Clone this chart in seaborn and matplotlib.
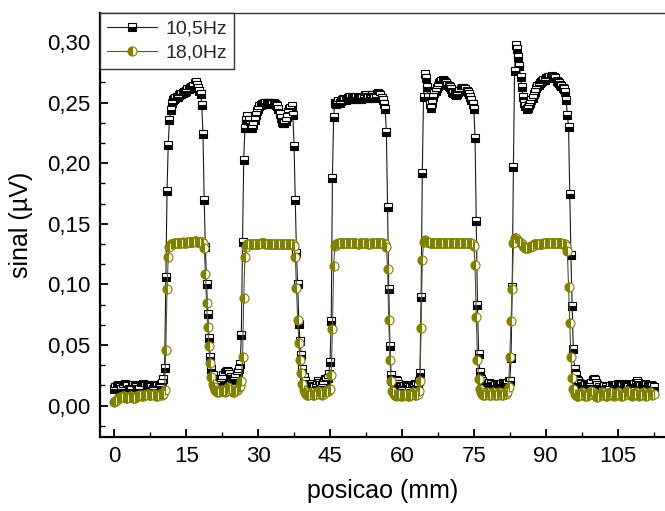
import numpy as np
import pandas as pd
import matplotlib
matplotlib.use("Agg")
import matplotlib.pyplot as plt
import seaborn as sns
from matplotlib.ticker import FixedLocator, MultipleLocator, AutoMinorLocator, FuncFormatter

# sampling step along the scan (mm)
step_mm = 0.25

# signal at 10,5 Hz (uV), one row = 5 mm
sig_10_5 = [
    0.014, 0.015, 0.016, 0.017, 0.016, 0.015, 0.014, 0.015, 0.017, 0.018, 0.017, 0.016, 0.014, 0.013, 0.014, 0.016, 0.017, 0.016, 0.015, 0.014,  # 0
    0.013, 0.014, 0.016, 0.017, 0.018, 0.017, 0.016, 0.015, 0.016, 0.017, 0.016, 0.015, 0.014, 0.015, 0.016, 0.017, 0.016, 0.015, 0.016, 0.018,  # 5
    0.019, 0.022, 0.031, 0.106, 0.177, 0.215, 0.236, 0.244, 0.250, 0.252, 0.253, 0.254, 0.255, 0.255, 0.256, 0.257, 0.257, 0.258, 0.259, 0.259,  # 10
    0.260, 0.261, 0.261, 0.262, 0.263, 0.263, 0.264, 0.266, 0.267, 0.265, 0.262, 0.260, 0.257, 0.248, 0.224, 0.170, 0.131, 0.100, 0.076, 0.056,  # 15
    0.040, 0.030, 0.025, 0.022, 0.020, 0.019, 0.020, 0.022, 0.021, 0.020, 0.022, 0.025, 0.027, 0.028, 0.029, 0.028, 0.026, 0.024, 0.022, 0.021,  # 20
    0.022, 0.024, 0.026, 0.028, 0.030, 0.034, 0.058, 0.135, 0.203, 0.229, 0.236, 0.239, 0.236, 0.232, 0.230, 0.229, 0.232, 0.236, 0.240, 0.243,  # 25
    0.245, 0.247, 0.248, 0.249, 0.249, 0.250, 0.250, 0.250, 0.250, 0.250, 0.250, 0.249, 0.249, 0.250, 0.249, 0.248, 0.247, 0.245, 0.241, 0.237,  # 30
    0.234, 0.233, 0.233, 0.235, 0.238, 0.242, 0.245, 0.246, 0.247, 0.240, 0.214, 0.170, 0.126, 0.100, 0.067, 0.053, 0.042, 0.030, 0.024, 0.020,  # 35
    0.018, 0.016, 0.015, 0.016, 0.017, 0.018, 0.016, 0.015, 0.016, 0.018, 0.020, 0.019, 0.017, 0.016, 0.018, 0.020, 0.022, 0.021, 0.023, 0.026,  # 40
    0.036, 0.070, 0.188, 0.238, 0.250, 0.249, 0.250, 0.251, 0.250, 0.251, 0.252, 0.253, 0.252, 0.252, 0.253, 0.254, 0.255, 0.255, 0.254, 0.253,  # 45
    0.253, 0.254, 0.255, 0.255, 0.254, 0.253, 0.253, 0.254, 0.255, 0.256, 0.256, 0.255, 0.254, 0.254, 0.255, 0.256, 0.255, 0.254, 0.255, 0.257,  # 50
    0.258, 0.257, 0.256, 0.254, 0.252, 0.249, 0.245, 0.226, 0.164, 0.096, 0.049, 0.025, 0.020, 0.019, 0.020, 0.021, 0.020, 0.018, 0.016, 0.015,  # 55
    0.014, 0.015, 0.016, 0.017, 0.016, 0.015, 0.014, 0.015, 0.016, 0.015, 0.016, 0.018, 0.017, 0.016, 0.020, 0.027, 0.090, 0.192, 0.255, 0.274,  # 60
    0.270, 0.263, 0.255, 0.249, 0.246, 0.250, 0.255, 0.258, 0.260, 0.262, 0.264, 0.266, 0.267, 0.268, 0.269, 0.268, 0.267, 0.266, 0.265, 0.264,  # 65
    0.263, 0.261, 0.259, 0.258, 0.257, 0.256, 0.257, 0.259, 0.260, 0.261, 0.262, 0.262, 0.261, 0.261, 0.260, 0.259, 0.257, 0.255, 0.252, 0.249,  # 70
    0.245, 0.221, 0.152, 0.083, 0.043, 0.028, 0.022, 0.020, 0.018, 0.017, 0.016, 0.017, 0.018, 0.019, 0.018, 0.016, 0.015, 0.016, 0.017, 0.018,  # 75
    0.017, 0.016, 0.017, 0.018, 0.019, 0.018, 0.017, 0.018, 0.019, 0.020, 0.020, 0.039, 0.098, 0.197, 0.276, 0.298, 0.294, 0.288, 0.280, 0.271,  # 80
    0.263, 0.255, 0.250, 0.247, 0.245, 0.246, 0.248, 0.250, 0.252, 0.254, 0.257, 0.259, 0.262, 0.264, 0.265, 0.266, 0.267, 0.268, 0.269, 0.269,  # 85
    0.270, 0.270, 0.271, 0.271, 0.271, 0.272, 0.271, 0.271, 0.270, 0.268, 0.267, 0.266, 0.265, 0.264, 0.262, 0.261, 0.259, 0.252, 0.240, 0.230,  # 90
    0.175, 0.124, 0.082, 0.047, 0.030, 0.025, 0.021, 0.020, 0.019, 0.018, 0.016, 0.015, 0.016, 0.017, 0.018, 0.017, 0.016, 0.017, 0.019, 0.021,  # 95
    0.022, 0.021, 0.019, 0.017, 0.015, 0.014, 0.013, 0.014, 0.015, 0.016, 0.015, 0.014, 0.013, 0.014, 0.016, 0.017, 0.016, 0.015, 0.016, 0.017,  # 100
    0.018, 0.017, 0.016, 0.015, 0.016, 0.017, 0.018, 0.017, 0.016, 0.015, 0.014, 0.015, 0.016, 0.017, 0.018, 0.019, 0.020, 0.019, 0.017, 0.016,  # 105
    0.015, 0.016, 0.017, 0.018, 0.017, 0.016, 0.015, 0.016, 0.017, 0.016, 0.015,  # 110
]

# signal at 18,0 Hz (uV)
sig_18_0 = [
    0.003, 0.004, 0.005, 0.006, 0.006, 0.007, 0.007, 0.008, 0.008, 0.007, 0.006, 0.006, 0.007, 0.008, 0.008, 0.007, 0.006, 0.006, 0.007, 0.008,  # 0
    0.008, 0.009, 0.009, 0.008, 0.008, 0.009, 0.009, 0.010, 0.010, 0.009, 0.009, 0.009, 0.010, 0.010, 0.009, 0.008, 0.008, 0.009, 0.010, 0.010,  # 5
    0.009, 0.010, 0.013, 0.046, 0.096, 0.123, 0.131, 0.133, 0.133, 0.133, 0.134, 0.134, 0.134, 0.134, 0.134, 0.134, 0.134, 0.135, 0.134, 0.134,  # 10
    0.134, 0.135, 0.135, 0.135, 0.135, 0.135, 0.135, 0.136, 0.136, 0.135, 0.135, 0.135, 0.135, 0.135, 0.134, 0.130, 0.109, 0.085, 0.065, 0.049,  # 15
    0.035, 0.024, 0.018, 0.015, 0.013, 0.012, 0.011, 0.011, 0.012, 0.013, 0.013, 0.012, 0.011, 0.012, 0.014, 0.015, 0.014, 0.013, 0.012, 0.011,  # 20
    0.011, 0.012, 0.013, 0.014, 0.015, 0.016, 0.020, 0.040, 0.089, 0.123, 0.131, 0.133, 0.133, 0.133, 0.133, 0.133, 0.133, 0.133, 0.133, 0.133,  # 25
    0.133, 0.133, 0.134, 0.134, 0.134, 0.134, 0.133, 0.133, 0.133, 0.133, 0.133, 0.133, 0.133, 0.133, 0.133, 0.133, 0.133, 0.133, 0.133, 0.133,  # 30
    0.133, 0.133, 0.133, 0.133, 0.133, 0.133, 0.133, 0.133, 0.133, 0.133, 0.132, 0.123, 0.097, 0.071, 0.052, 0.038, 0.027, 0.018, 0.013, 0.011,  # 35
    0.010, 0.009, 0.009, 0.010, 0.011, 0.010, 0.009, 0.009, 0.010, 0.011, 0.012, 0.011, 0.010, 0.009, 0.010, 0.011, 0.012, 0.011, 0.012, 0.013,  # 40
    0.014, 0.025, 0.063, 0.115, 0.132, 0.133, 0.133, 0.134, 0.134, 0.134, 0.134, 0.134, 0.134, 0.134, 0.134, 0.134, 0.134, 0.134, 0.134, 0.134,  # 45
    0.134, 0.134, 0.134, 0.133, 0.133, 0.134, 0.134, 0.134, 0.134, 0.134, 0.134, 0.134, 0.133, 0.133, 0.134, 0.134, 0.134, 0.134, 0.134, 0.134,  # 50
    0.134, 0.134, 0.134, 0.134, 0.134, 0.133, 0.133, 0.131, 0.113, 0.071, 0.038, 0.020, 0.012, 0.010, 0.009, 0.008, 0.009, 0.010, 0.009, 0.008,  # 55
    0.008, 0.009, 0.010, 0.010, 0.009, 0.008, 0.008, 0.009, 0.010, 0.011, 0.010, 0.009, 0.009, 0.010, 0.012, 0.020, 0.064, 0.120, 0.135, 0.137,  # 60
    0.136, 0.135, 0.135, 0.134, 0.134, 0.134, 0.134, 0.134, 0.134, 0.134, 0.134, 0.134, 0.134, 0.134, 0.134, 0.134, 0.134, 0.134, 0.134, 0.134,  # 65
    0.134, 0.134, 0.134, 0.134, 0.134, 0.134, 0.134, 0.134, 0.134, 0.134, 0.134, 0.134, 0.134, 0.134, 0.134, 0.134, 0.134, 0.134, 0.134, 0.133,  # 70
    0.132, 0.116, 0.073, 0.038, 0.022, 0.014, 0.011, 0.010, 0.009, 0.009, 0.010, 0.011, 0.010, 0.009, 0.009, 0.010, 0.011, 0.010, 0.009, 0.009,  # 75
    0.010, 0.011, 0.010, 0.009, 0.009, 0.010, 0.011, 0.010, 0.011, 0.015, 0.040, 0.070, 0.096, 0.134, 0.138, 0.138, 0.137, 0.136, 0.135, 0.134,  # 80
    0.133, 0.132, 0.131, 0.130, 0.130, 0.130, 0.131, 0.131, 0.132, 0.132, 0.133, 0.133, 0.133, 0.133, 0.133, 0.133, 0.133, 0.133, 0.134, 0.134,  # 85
    0.134, 0.134, 0.134, 0.134, 0.134, 0.134, 0.134, 0.134, 0.134, 0.134, 0.134, 0.134, 0.134, 0.134, 0.133, 0.133, 0.133, 0.132, 0.128, 0.098,  # 90
    0.068, 0.040, 0.023, 0.014, 0.010, 0.009, 0.008, 0.008, 0.009, 0.010, 0.011, 0.010, 0.009, 0.008, 0.008, 0.009, 0.010, 0.011, 0.012, 0.011,  # 95
    0.010, 0.009, 0.008, 0.007, 0.008, 0.009, 0.010, 0.011, 0.010, 0.009, 0.008, 0.008, 0.009, 0.010, 0.011, 0.010, 0.009, 0.008, 0.009, 0.010,  # 100
    0.011, 0.010, 0.009, 0.008, 0.008, 0.009, 0.010, 0.011, 0.012, 0.011, 0.010, 0.009, 0.008, 0.009, 0.010, 0.011, 0.010, 0.009, 0.008, 0.009,  # 105
    0.010, 0.011, 0.010, 0.009, 0.008, 0.009, 0.010, 0.011, 0.010, 0.009, 0.010,  # 110
]

series_labels = ["10,5Hz", "18,0Hz"]
x_tick_values = [0, 15, 30, 45, 60, 75, 90, 105]
y_tick_values = [0.00, 0.05, 0.10, 0.15, 0.20, 0.25, 0.30]
x_label = "posicao (mm)"
y_label = "sinal (µV)"

n = min(len(sig_10_5), len(sig_18_0))
pos_mm = np.arange(n) * step_mm
df = pd.DataFrame({"posicao": pos_mm, "s105": sig_10_5[:n], "s180": sig_18_0[:n]})

sns.set_style("ticks")
plt.rcParams["font.family"] = ["Liberation Sans", "DejaVu Sans"]

W, H = 665, 511
fig = plt.figure(figsize=(W / 100, H / 100), dpi=100)
left, right, top, bottom = 100, 665, 13, 436.7
ax = fig.add_axes([left / W, 1 - bottom / H, (right - left) / W, (bottom - top) / H])

olive = "#808000"
sns.lineplot(data=df, x="posicao", y="s105", ax=ax, estimator=None, errorbar=None, sort=False,
             color="#1a1a1a", linewidth=0.8, marker="s", markersize=6,
             fillstyle="bottom", markerfacecolor="black", markerfacecoloralt="white",
             markeredgecolor="black", markeredgewidth=0.8, label=series_labels[0])
sns.lineplot(data=df, x="posicao", y="s180", ax=ax, estimator=None, errorbar=None, sort=False,
             color="#55552e", linewidth=0.8, marker="o", markersize=6.5,
             fillstyle="left", markerfacecolor=olive, markerfacecoloralt="white",
             markeredgecolor=olive, markeredgewidth=0.8, label=series_labels[1])

ax.set_xlim(-2.98, 114.87)
ax.set_ylim(-0.0256, 0.324)

ax.xaxis.set_major_locator(FixedLocator(x_tick_values))
ax.xaxis.set_minor_locator(MultipleLocator(7.5))
ax.yaxis.set_major_locator(FixedLocator(y_tick_values))
ax.yaxis.set_minor_locator(MultipleLocator(0.05 / 3))
ax.yaxis.set_major_formatter(FuncFormatter(lambda v, _: f"{v:.2f}".replace(".", ",")))
ax.xaxis.set_major_formatter(FuncFormatter(lambda v, _: f"{v:.0f}"))

ax.tick_params(which="major", direction="in", length=6, width=1.3, labelsize=16, pad=7,
               top=False, right=False, color="black", labelcolor="black")
ax.tick_params(which="minor", direction="in", length=3.5, width=1.0, top=False, right=False, color="black")

for side in ["left", "bottom"]:
    ax.spines[side].set_linewidth(1.6)
    ax.spines[side].set_color("black")
ax.spines["top"].set_linewidth(1.0)
ax.spines["top"].set_color("#333333")
ax.spines["right"].set_visible(False)

ax.set_xlabel(x_label, fontsize=18, labelpad=8, color="black")
ax.set_ylabel(y_label, fontsize=18, labelpad=10, color="black")

leg = ax.legend(loc="upper left", bbox_to_anchor=(0, 1), borderaxespad=0, fontsize=14,
                frameon=True, fancybox=False, framealpha=1, edgecolor="#333333",
                handlelength=2.6, handletextpad=0.4, borderpad=0.35, labelspacing=0.35)
leg.get_frame().set_linewidth(1.0)

fig.savefig("out.png", dpi=100)
